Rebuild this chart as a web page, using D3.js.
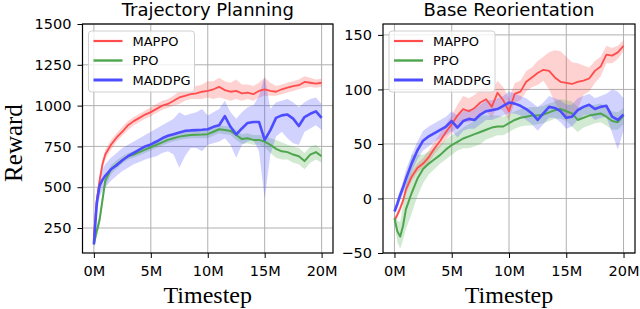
<!DOCTYPE html>
<html>
<head>
<meta charset="utf-8">
<script src="https://cdn.jsdelivr.net/npm/d3@7"></script>
<style>
  body { margin: 0; background: #fff; }
  svg { display: block; }
  .tick text { font-family: "DejaVu Sans", sans-serif; font-size: 14.5px; fill: #000; }
  .tick line { stroke: #000; }
  .domain { display: none; }
</style>
</head>
<body>
<script>
// timesteps (millions)
const steps = [0, 0.25, 0.5, 0.75, 1, 1.5, 2, 2.5, 3, 3.5, 4, 4.5, 5, 5.5, 6, 6.5, 7, 7.5, 8, 8.5, 9, 9.5, 10,
  10.5, 11, 11.5, 12, 12.5, 13, 13.5, 14, 14.5, 15, 15.5, 16, 16.5, 17, 17.5, 18, 18.5, 19, 19.5, 20];

// Trajectory Planning
const tpMappo = [200,420,540,640, 700,760,805,840,880,905,925,945,960,980,1000,1010,1030,1050,1060,1070,1075,1085,1090,
  1100,1115,1095,1085,1090,1075,1080,1070,1090,1100,1090,1085,1100,1110,1120,1125,1145,1140,1135,1140];
const tpMappoLo = [180,380,510,610, 670,730,780,815,850,880,900,920,935,955,975,985,1000,1010,1030,1040,1040,1040,1050,
  1040,1050,1040,1030,1040,1030,1040,1030,1050,1060,1060,1060,1070,1080,1090,1100,1110,1115,1110,1115];
const tpMappoHi = [220,460,570,670, 730,790,830,870,905,930,950,970,990,1010,1030,1040,1060,1090,1100,1110,1120,1130,1150,
  1150,1170,1150,1140,1160,1130,1130,1120,1140,1170,1140,1120,1130,1140,1150,1160,1180,1170,1160,1165];

const tpPpo = [150,230,300,420, 540,610,640,665,690,700,715,730,745,760,775,790,800,810,815,820,822,823,825,
  840,855,850,845,820,795,800,790,790,780,760,735,720,715,700,690,660,700,715,690];
const tpPpoLo = [130,200,260,380, 500,580,615,645,670,680,695,710,725,740,755,770,780,790,795,800,800,800,800,
  815,830,825,820,790,765,770,760,760,745,710,680,670,670,650,640,610,650,670,650];
const tpPpoHi = [170,260,340,460, 570,635,665,690,710,720,735,750,765,780,795,810,820,830,835,845,845,850,850,
  865,880,875,870,850,825,830,820,820,815,800,790,775,760,750,740,710,750,760,730];

const tpMaddpg = [150,400,510,545, 570,610,635,665,690,710,730,750,762,780,800,815,825,835,845,848,850,852,855,
  870,880,935,870,823,860,894,900,900,790,850,925,940,945,920,875,930,950,965,925];
const tpMaddpgLo = [130,330,440,480, 500,540,570,600,620,640,655,670,680,690,710,720,700,620,690,740,740,720,760,
  770,780,800,760,680,760,780,790,720,430,700,810,840,800,770,760,840,860,880,850];
const tpMaddpgHi = [170,460,570,610, 640,680,710,740,760,780,800,820,840,860,880,900,920,960,940,950,960,980,940,
  960,980,1030,960,920,960,990,1000,1060,1180,980,1020,1030,1040,1020,990,1020,1040,1050,1010];

// Base Reorientation
const brMappo = [-20,-15,-9,-2, 8,20,28,32,38,46,53,61,68,76,82,80,83,88,91,84,97,90,80,
  96,98,107,111,115,118,117,111,107,106,105,107,108,110,117,121,132,131,134,140];
const brMappoLo = [-23,-18,-12,-5, 4,16,24,28,33,41,47,54,60,66,70,70,73,78,80,74,84,80,72,
  88,90,98,102,104,108,100,88,80,72,76,82,95,98,106,112,124,124,128,135];
const brMappoHi = [-17,-12,-6,1, 12,24,32,37,44,52,60,68,76,86,94,92,95,100,104,98,108,102,92,
  106,108,117,120,126,130,134,136,135,130,125,124,122,120,126,130,140,138,140,145];

const brPpo = [-18,-30,-35,-25, -10,5,18,27,32,36,40,45,49,52,55,57,59,61,63,65,66,66,69,
  72,74,75,76,76,77,79,81,82,80,78,72,74,76,77,78,75,71,70,76];
const brPpoLo = [-22,-40,-46,-38, -28,-14,2,14,22,27,32,36,40,44,46,46,48,50,54,56,58,58,61,
  64,66,67,67,68,69,71,73,73,71,66,61,65,67,69,70,67,63,63,68];
const brPpoHi = [-14,-20,-22,-5, 14,40,40,40,43,46,49,54,58,61,65,68,72,76,76,76,76,75,77,
  80,82,83,84,84,85,87,89,91,90,89,84,84,85,86,87,84,80,79,83];

const brMaddpg = [-12,-5,3,10, 18,32,44,53,57,60,63,66,71,65,71,73,72,77,80,81,82,85,88,
  87,85,82,78,72,78,84,83,80,74,75,81,84,86,82,84,85,75,72,77];
const brMaddpgLo = [-15,-9,-2,4, 10,24,36,44,48,52,55,58,62,56,62,64,64,68,72,72,74,76,78,
  78,76,72,68,62,68,74,74,70,64,66,72,76,77,72,74,75,60,45,62];
const brMaddpgHi = [-9,0,8,16, 26,40,52,62,66,69,72,75,80,76,80,82,82,86,90,90,92,94,98,
  96,94,92,88,84,88,94,92,90,86,86,92,94,96,92,94,96,100,98,92];

const xTicks = [0, 5, 10, 15, 20];
const tpTicks = [250, 500, 750, 1000, 1250, 1500];
const brTicks = [-50, 0, 50, 100, 150];
const names = ['MAPPO', 'PPO', 'MADDPG'];
const colors = ['#ff4d4d', '#4da64d', '#4d4dff'];
const widths = [1.8, 2, 2.6];

const W = 640, H = 309;

const svg = d3.select('body').append('svg')
  .attr('width', W)
  .attr('height', H);

function panel(opt) {
  const x = d3.scaleLinear().domain([-1, 21]).range([opt.left, opt.right]);
  const y = d3.scaleLinear().domain(opt.yDomain).range([opt.bottom, opt.top]);
  const g = svg.append('g');

  // grid
  g.selectAll('.gx').data(xTicks).enter().append('line')
    .attr('x1', d => x(d)).attr('x2', d => x(d))
    .attr('y1', opt.top).attr('y2', opt.bottom)
    .attr('stroke', '#b0b0b0').attr('stroke-width', 1);
  g.selectAll('.gy').data(opt.yTicks).enter().append('line')
    .attr('x1', opt.left).attr('x2', opt.right)
    .attr('y1', d => y(d)).attr('y2', d => y(d))
    .attr('stroke', '#b0b0b0').attr('stroke-width', 1);

  const clipId = 'clip' + opt.id;
  svg.append('clipPath').attr('id', clipId).append('rect')
    .attr('x', opt.left).attr('y', opt.top)
    .attr('width', opt.right - opt.left).attr('height', opt.bottom - opt.top);

  const plot = g.append('g').attr('clip-path', `url(#${clipId})`);

  opt.series.forEach((s, i) => {
    const area = d3.area()
      .x((d, j) => x(steps[j]))
      .y0((d, j) => y(s.lo[j]))
      .y1((d, j) => y(s.hi[j]));
    plot.append('path')
      .attr('d', area(s.mean))
      .attr('fill', colors[i])
      .attr('fill-opacity', 0.25);
  });
  opt.series.forEach((s, i) => {
    const line = d3.line()
      .x((d, j) => x(steps[j]))
      .y(d => y(d));
    plot.append('path')
      .attr('d', line(s.mean))
      .attr('fill', 'none')
      .attr('stroke', colors[i])
      .attr('stroke-width', widths[i])
      .attr('stroke-linejoin', 'round');
  });

  // axes
  g.append('g')
    .attr('transform', `translate(0,${opt.bottom})`)
    .call(d3.axisBottom(x).tickValues(xTicks).tickFormat(d => d + 'M').tickSize(5).tickPadding(8));
  g.append('g')
    .attr('transform', `translate(${opt.left},0)`)
    .call(d3.axisLeft(y).tickValues(opt.yTicks).tickFormat(d => d < 0 ? '\u2212' + Math.abs(d) : d).tickSize(5).tickPadding(6));

  g.append('rect')
    .attr('x', opt.left).attr('y', opt.top)
    .attr('width', opt.right - opt.left).attr('height', opt.bottom - opt.top)
    .attr('fill', 'none').attr('stroke', '#000').attr('stroke-width', 1.2);

  // title
  g.append('text')
    .attr('x', (opt.left + opt.right) / 2)
    .attr('y', 16)
    .attr('text-anchor', 'middle')
    .style('font-family', '"DejaVu Sans", sans-serif')
    .style('font-size', '18px')
    .text(opt.title);

  g.append('text')
    .attr('x', (opt.left + opt.right) / 2)
    .attr('y', 303)
    .attr('text-anchor', 'middle')
    .style('font-family', '"Liberation Serif", "DejaVu Serif", serif')
    .style('font-size', '24px')
    .text('Timestep');

  // legend
  const lx = opt.left + 6, ly = 31;
  const leg = g.append('g');
  leg.append('rect')
    .attr('x', lx).attr('y', ly)
    .attr('width', 106).attr('height', 61)
    .attr('rx', 3)
    .attr('fill', '#fff').attr('fill-opacity', 0.8)
    .attr('stroke', '#d0d0d0');
  names.forEach((n, i) => {
    const yy = ly + 10 + i * 19.5;
    leg.append('line')
      .attr('x1', lx + 5).attr('x2', lx + 34)
      .attr('y1', yy).attr('y2', yy)
      .attr('stroke', colors[i]).attr('stroke-width', widths[i] + 0.4);
    leg.append('text')
      .attr('x', lx + 44).attr('y', yy + 4.5)
      .style('font-family', '"DejaVu Sans", sans-serif')
      .style('font-size', '13px')
      .text(n);
  });
}

panel({
  id: 'tp', title: 'Trajectory Planning',
  left: 82.5, right: 333, top: 24, bottom: 253,
  yDomain: [97, 1500], yTicks: tpTicks,
  series: [
    { mean: tpMappo, lo: tpMappoLo, hi: tpMappoHi },
    { mean: tpPpo, lo: tpPpoLo, hi: tpPpoHi },
    { mean: tpMaddpg, lo: tpMaddpgLo, hi: tpMaddpgHi }
  ]
});

panel({
  id: 'br', title: 'Base Reorientation',
  left: 383, right: 635, top: 24, bottom: 253,
  yDomain: [-50, 160], yTicks: brTicks,
  series: [
    { mean: brMappo, lo: brMappoLo, hi: brMappoHi },
    { mean: brPpo, lo: brPpoLo, hi: brPpoHi },
    { mean: brMaddpg, lo: brMaddpgLo, hi: brMaddpgHi }
  ]
});

svg.append('text')
  .attr('transform', 'translate(22,143) rotate(-90)')
  .attr('text-anchor', 'middle')
  .style('font-family', '"Liberation Serif", "DejaVu Serif", serif')
  .style('font-size', '25px')
  .text('Reward');
</script>
</body>
</html>
